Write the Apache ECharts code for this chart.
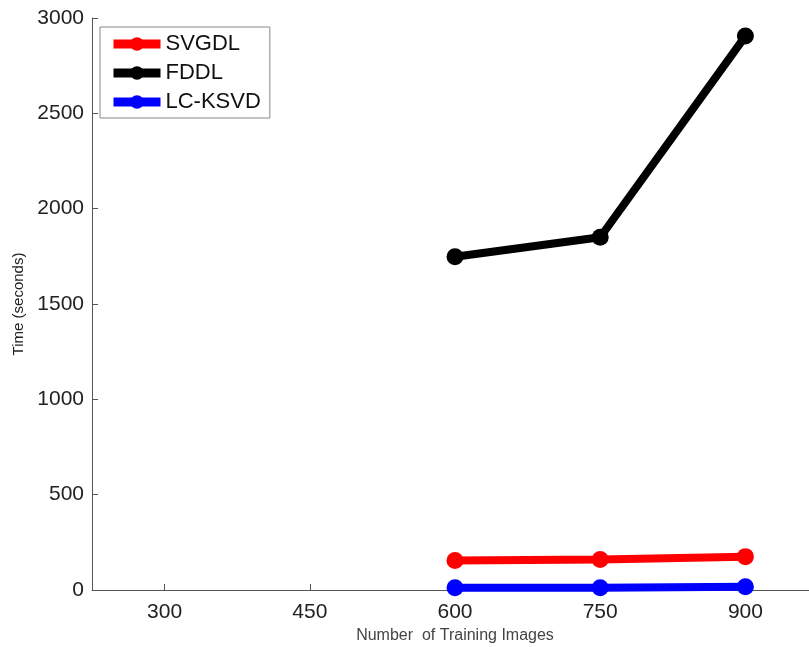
<!DOCTYPE html>
<html>
<head>
<meta charset="utf-8">
<script src="https://cdn.jsdelivr.net/npm/echarts@6/dist/echarts.min.js"></script>
<style>
  html, body { margin: 0; padding: 0; background: #fff; }
  #chart { width: 809px; height: 647px; }
</style>
</head>
<body>
<div id="chart"></div>
<script>
// values
var trainSizes = [600, 750, 900];
var xTicks = [300, 450, 600, 750, 900];
var svgdl = [155, 160, 175];
var fddl = [1748, 1850, 2905];
var lcksvd = [12, 12, 17];

var names = ['SVGDL', 'FDDL', 'LC-KSVD'];
var colors = ['#ff0000', '#000000', '#0000ff'];

function pairs(ys) {
  return trainSizes.map(function (x, i) { return [x, ys[i]]; });
}

var chart = echarts.init(document.getElementById('chart'));

var seriesList = [svgdl, fddl, lcksvd].map(function (ys, i) {
  return {
    name: names[i],
    type: 'line',
    data: pairs(ys),
    symbol: 'circle',
    symbolSize: 17,
    lineStyle: { width: 8, color: colors[i] },
    itemStyle: { color: colors[i] },
    animation: false
  };
});

chart.setOption({
  animation: false,
  grid: { left: 92, right: -9, top: 18, bottom: 57, outerBoundsMode: 'none', containLabel: false },
  legend: {
    left: 100, top: 27,
    orient: 'vertical',
    data: names,
    itemWidth: 47, itemHeight: 17,
    itemGap: 7,
    padding: [6, 9, 5, 9],
    borderColor: '#888', borderWidth: 1,
    backgroundColor: '#fff',
    lineStyle: { width: 9 },
    textStyle: { fontFamily: 'Liberation Sans, Arial', fontSize: 22, color: '#111' }
  },
  xAxis: {
    type: 'value',
    min: 225, max: 975,
    name: 'Number  of Training Images',
    nameLocation: 'middle',
    nameGap: 38,
    nameTextStyle: { fontFamily: 'Liberation Sans Narrow, Liberation Sans', fontSize: 16, color: '#444' },
    splitLine: { show: false },
    axisLine: { lineStyle: { color: '#555', width: 1 } },
    axisTick: { inside: true, length: 6, customValues: xTicks, lineStyle: { color: '#555' } },
    axisLabel: { customValues: xTicks, margin: 12, fontFamily: 'Liberation Sans Narrow, Liberation Sans', fontSize: 21, color: '#222' }
  },
  yAxis: {
    type: 'value',
    min: 0, max: 3000, interval: 500,
    name: 'Time (seconds)',
    nameLocation: 'middle',
    nameGap: 57,
    nameTextStyle: { fontFamily: 'Liberation Sans', fontSize: 15, color: '#222' },
    splitLine: { show: false },
    axisLine: { show: true, lineStyle: { color: '#555', width: 1 } },
    axisTick: { show: true, inside: true, length: 6, lineStyle: { color: '#555' } },
    axisLabel: { margin: 8, fontFamily: 'Liberation Sans', fontSize: 21, color: '#222', formatter: function (v) { return String(v); } }
  },
  series: seriesList
});
</script>
</body>
</html>
